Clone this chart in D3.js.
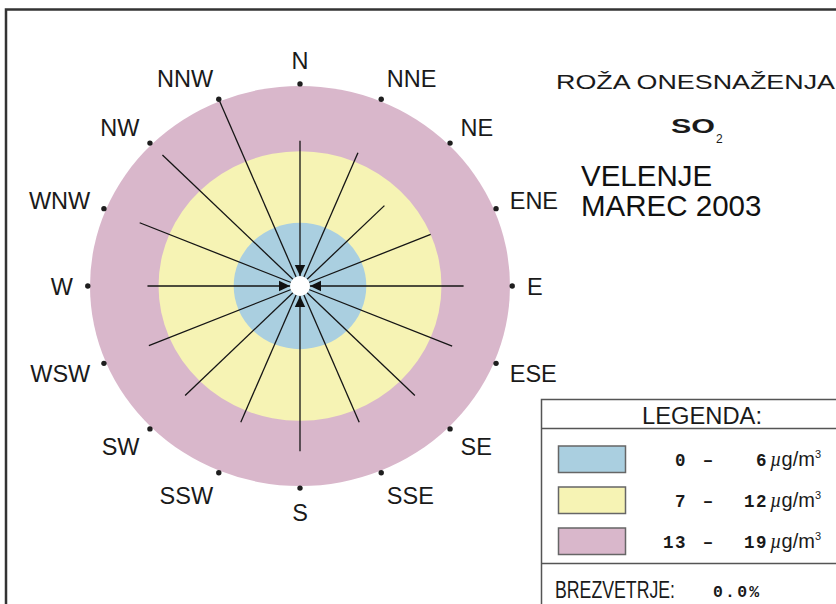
<!DOCTYPE html>
<html><head><meta charset="utf-8">
<script src="https://cdn.jsdelivr.net/npm/d3@7"></script>
<style>body{margin:0;background:#fff;overflow:hidden} svg{display:block}</style>
</head><body>
<svg id="c" width="836" height="604"></svg>
<script>
// ---- data ----
const directions = ["N","NNE","NE","ENE","E","ESE","SE","SSE","S","SSW","SW","WSW","W","WNW","NW","NNW"];
const concentrations = [13.8,13.7,10.8,12.8,14.8,14.9,14.7,14.0,15.7,14.0,14.7,14.8,13.8,15.7,17.6,19.0];
const classLow = ["0","7","13"];
const classHigh = ["6","12","19"];
const classEdges = [6, 12.8, 19];
const classColors = ["#aacfe0","#f6f3b4","#d9b7cb"];
const calmText = "0.0%";
const titleLines = ["ROŽA ONESNAŽENJA"];
const stationLines = ["VELENJE","MAREC 2003"];

// ---- layout ----
const svg = d3.select("#c");
const cx = 300, cy = 286, kx = 1.05;
const sans = "Liberation Sans, Arial, sans-serif";
const mono = "Liberation Mono, Courier New, monospace";
const r = d3.scaleLinear().domain([0, 19]).range([0, 200]);
const ang = d3.scalePoint().domain(directions).range([0, 360 - 22.5]);
const rad = d => ang(d) * Math.PI / 180;
const px = (d, v) => cx + r(v) * Math.sin(rad(d)) * kx;
const py = (d, v) => cy - r(v) * Math.cos(rad(d));

// frame
svg.append("path").attr("d", "M6,610 V9.5 H840").attr("fill", "none")
  .attr("stroke", "#333").attr("stroke-width", 2.5);

// rings (outermost first)
const rings = classEdges.map((e, i) => ({e, c: classColors[i]})).reverse();
svg.append("g").selectAll("ellipse").data(rings).join("ellipse")
  .attr("cx", cx).attr("cy", cy)
  .attr("rx", d => r(d.e) * kx).attr("ry", d => r(d.e))
  .attr("fill", d => d.c);

// spokes
const spokes = directions.map((d, i) => ({d, v: concentrations[i], i}));
svg.append("g").selectAll("line").data(spokes).join("line")
  .attr("x1", cx).attr("y1", cy)
  .attr("x2", d => px(d.d, d.v)).attr("y2", d => py(d.d, d.v))
  .attr("stroke", "#151515").attr("stroke-width", 1.3);

// centre hole
svg.append("ellipse").attr("cx", cx).attr("cy", cy).attr("rx", 10).attr("ry", 10).attr("fill", "#fff");

// arrowheads on cardinal spokes
svg.append("g").selectAll("path").data(spokes.filter(s => s.i % 4 === 0)).join("path")
  .attr("d", s => {
    const a = rad(s.d), ux = Math.sin(a), uy = -Math.cos(a), vx = -uy, vy = ux;
    const t = 10, b = 21, w = 5.2;
    const tip = [cx + ux * t, cy + uy * t];
    const b1 = [cx + ux * b + vx * w, cy + uy * b + vy * w];
    const b2 = [cx + ux * b - vx * w, cy + uy * b - vy * w];
    return `M${tip}L${b1}L${b2}Z`;
  }).attr("fill", "#111");

// dots
svg.append("g").selectAll("circle").data(directions).join("circle")
  .attr("cx", d => px(d, 19.2)).attr("cy", d => py(d, 19.2))
  .attr("r", 2.7).attr("fill", "#1e1e1e");

// direction labels
svg.append("g").selectAll("text").data(directions).join("text")
  .attr("x", d => cx + 227 * Math.sin(rad(d)))
  .attr("y", d => cy + 1 - 226 * Math.cos(rad(d)))
  .attr("dy", "0.36em")
  .attr("text-anchor", d => { const s = Math.sin(rad(d)); return Math.abs(s) < 0.2 ? "middle" : (s > 0 ? "start" : "end"); })
  .attr("font-family", sans).attr("font-size", 23.5)
  .attr("fill", "#1a1a1a").text(d => d);

// titles
svg.append("text").attr("x", 556).attr("y", 89).attr("font-family", sans)
  .attr("font-size", 21).attr("fill", "#1a1a1a").attr("textLength", 279).attr("lengthAdjust", "spacingAndGlyphs")
  .text(titleLines[0]);
svg.append("text").attr("x", 671).attr("y", 133).attr("font-family", sans)
  .attr("font-size", 20.5).attr("font-weight", "bold").attr("fill", "#1a1a1a")
  .attr("textLength", 44).attr("lengthAdjust", "spacingAndGlyphs").text("SO");
svg.append("text").attr("x", 716).attr("y", 143).attr("font-family", sans)
  .attr("font-size", 12).attr("fill", "#1a1a1a").text("2");
svg.append("g").selectAll("text").data(stationLines).join("text")
  .attr("x", 581).attr("y", (d, i) => 186 + i * 30)
  .attr("font-family", sans).attr("font-size", 29.5).attr("fill", "#111")
  .text(d => d);

// legend box
const lg = svg.append("g");
lg.append("rect").attr("x", 541.5).attr("y", 399.5).attr("width", 320).attr("height", 240)
  .attr("fill", "#fff").attr("stroke", "#555").attr("stroke-width", 1.5);
lg.append("line").attr("x1", 541.5).attr("x2", 840).attr("y1", 428.5).attr("y2", 428.5).attr("stroke", "#555").attr("stroke-width", 1.5);
lg.append("line").attr("x1", 541.5).attr("x2", 840).attr("y1", 563.5).attr("y2", 563.5).attr("stroke", "#555").attr("stroke-width", 1.5);
lg.append("text").attr("x", 642).attr("y", 423.5).attr("font-family", sans)
  .attr("font-size", 23).attr("fill", "#1a1a1a").attr("textLength", 120).attr("lengthAdjust", "spacingAndGlyphs")
  .text("LEGENDA:");

const rowY = d3.scalePoint().domain(d3.range(classColors.length)).range([459.5, 541.5]);
const rows = lg.append("g").selectAll("g").data(classColors).join("g")
  .attr("transform", (d, i) => `translate(0,${rowY(i)})`);
rows.append("rect").attr("x", 558.5).attr("y", -13.5).attr("width", 67).attr("height", 26.5)
  .attr("fill", d => d).attr("stroke", "#666").attr("stroke-width", 1.5);
rows.append("text").attr("x", 687).attr("y", 6).attr("text-anchor", "end")
  .attr("font-family", mono).attr("font-weight", "bold").attr("font-size", 17.5).attr("fill", "#1a1a1a")
  .attr("letter-spacing", 1.5).text((d, i) => classLow[i]);
rows.append("text").attr("x", 708).attr("y", 6).attr("text-anchor", "middle")
  .attr("font-family", mono).attr("font-weight", "bold").attr("font-size", 17.5).attr("fill", "#1a1a1a")
  .text("–");
rows.append("text").attr("x", 768).attr("y", 6).attr("text-anchor", "end")
  .attr("font-family", mono).attr("font-weight", "bold").attr("font-size", 17.5).attr("fill", "#1a1a1a")
  .attr("letter-spacing", 1.5).text((d, i) => classHigh[i]);
const unit = rows.append("text").attr("x", 770).attr("y", 6)
  .attr("font-family", sans).attr("font-size", 20).attr("fill", "#1a1a1a");
unit.append("tspan").attr("font-style", "italic").attr("font-family", "Liberation Serif, serif").text("µ");
unit.append("tspan").text("g/m");
unit.append("tspan").attr("font-size", 11).attr("dy", -8).text("3");

lg.append("text").attr("x", 555).attr("y", 598).attr("font-family", sans)
  .attr("font-size", 23).attr("fill", "#1a1a1a").attr("textLength", 120).attr("lengthAdjust", "spacingAndGlyphs")
  .text("BREZVETRJE:");
lg.append("text").attr("x", 713).attr("y", 597).attr("font-family", mono).attr("font-weight", "bold")
  .attr("font-size", 16.5).attr("fill", "#1a1a1a").attr("letter-spacing", 2.2).text(calmText);
</script>
</body></html>
